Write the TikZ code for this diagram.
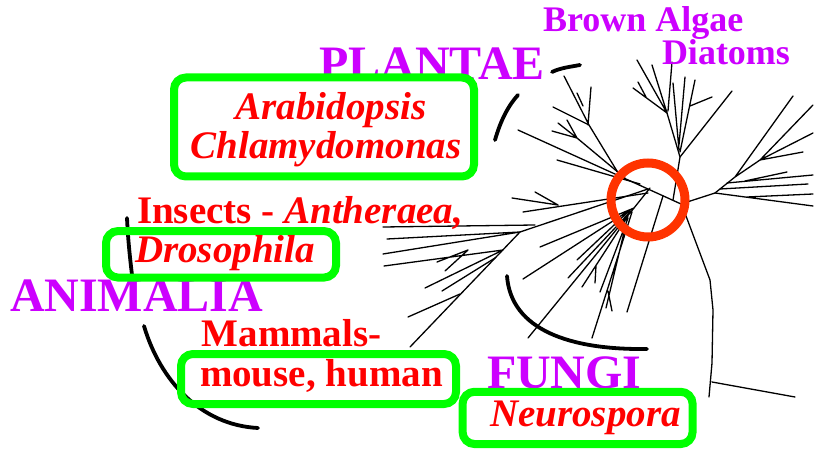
\documentclass[tikz,border=0pt]{standalone}
\usepackage{fontspec}
\setmainfont{Liberation Serif}
\definecolor{kingdompurple}{RGB}{204,0,255}
\definecolor{speciesred}{RGB}{255,0,0}
\definecolor{taggreen}{RGB}{0,255,0}
\definecolor{rootorange}{RGB}{255,51,0}

\begin{document}
\begin{tikzpicture}[x=1pt, y=-1pt,
  every node/.style={inner sep=0pt, outer sep=0pt},
  branch/.style={line width=1.3pt, line cap=round},
  hull/.style={line width=3.8pt, line cap=round},
  tag/.style={draw=taggreen, line width=8pt, rounded corners=12pt},
  kingdom/.style={text=kingdompurple, anchor=base west, font=\fontsize{48}{48}\selectfont\bfseries},
  clade/.style={text=kingdompurple, anchor=base west, font=\fontsize{36}{36}\selectfont\bfseries},
  species/.style={text=speciesred, anchor=base west, font=\fontsize{39}{39}\selectfont\bfseries}]
\useasboundingbox (0,0) rectangle (814,449);
% Plantae branches and main trunk
\draw[branch] (518,130) -- (681,204);
\draw[branch] (564,76) -- (589,125) -- (620,176) (591,87) -- (588,125) (553,107) -- (589,125)
  (577,93) -- (583,106);
\draw[branch] (558,123) -- (577,138) (567,120) -- (577,138) (552,131) -- (577,138) -- (625,178);
\draw[branch] (557,160) -- (640,184);
% Brown algae and diatoms
\draw[branch] (673,200) -- (680,157) -- (667,113);
\draw[branch] (637,60) -- (667,113) (652,65) -- (667,113) (633,88) -- (667,113) (638,82) -- (646,97)
  (672,62) -- (668,111);
\draw[branch] (673,83) -- (679,150) (685,77) -- (679,145) (695,80) -- (680,152) (712,97) -- (690,106)
  (732,91) -- (680,157);
% right cluster
\draw[branch] (681,204) -- (715,193) -- (813,206) (720,189) -- (808,184) (727,183) -- (813,175)
  (745,181) -- (787,172) (747,197) -- (813,194);
\draw[branch] (715,193) -- (735,177) -- (793,96) (735,177) -- (760,160) -- (813,105)
  (760,160) -- (813,133) (760,160) -- (803,152);
\draw[branch] (683,208) -- (710,280) -- (713,310) -- (712,363) -- (709,397) (712,382) -- (795,397);
% Animalia
\draw[branch] (410,347) -- (520,232) -- (648,189);
\draw[branch] (383,227) -- (535,225) (387,239) -- (520,232) (383,254) -- (520,232)
  (384,266) -- (503,250) (425,288) -- (503,250) (437,262) -- (468,250) (445,271) -- (468,250)
  (442,291) -- (495,258) (408,317) -- (460,294);
\draw[branch] (523,212) -- (648,193) (512,198) -- (558,205) (535,192) -- (558,205);
% Fungi
\draw[branch] (650,188) -- (634,208);
\draw[branch] (540,247) -- (634,208) (523,279) -- (630,210) (577,260) -- (630,210)
  (568,278) -- (631,211) (582,287) -- (628,216) (600,292) -- (628,218) (528,338) -- (634,208)
  (592,338) -- (632,212) (606,308) -- (626,224) (596,266) -- (595,283) (608,291) -- (612,311);
\draw[branch] (627,312) -- (663,196);
% clade arcs
\draw[hull] (495,140) .. controls (499.6,123.9) and (506.7,107.3) .. (518,95);
\draw[hull] (552,72) .. controls (560.6,67.8) and (570.6,66.8) .. (580,65);
\draw[hull] (507,276) .. controls (511,330) and (570,350) .. (647,349);
\draw[hull] (127,218) .. controls (128,240) and (130,258) .. (132,275);
\draw[hull] (144,326) .. controls (160,380) and (200,425) .. (258,428);
% root of the tree
\node[draw=rootorange, line width=9pt, circle, minimum size=74pt] (root) at (648,200) {};
% kingdoms
\node[kingdom] (plantae) at (319,80) {PLANTAE};
\node[kingdom] (animalia) at (10,311) {ANIMALIA};
\node[kingdom] (fungi) at (487,388.5) {FUNGI};
\node[clade] (brown) at (543,32) {Brown Algae};
\node[clade] (diatoms) at (662,65) {Diatoms};
% model organisms
\node[tag, minimum width=300pt, minimum height=99pt] (plantbox) at (324,127) {};
\node[tag, minimum width=230pt, minimum height=46.5pt] (insectbox) at (221,254.3) {};
\node[tag, minimum width=275pt, minimum height=50pt] (mammalbox) at (318.5,379) {};
\node[tag, minimum width=230pt, minimum height=52.3pt] (fungusbox) at (577.6,417.9) {};
\node[species, anchor=base] (arabidopsis) at (331,120) {\itshape Arabidopsis};
\node[species, anchor=base] (chlamy) at (326,158.3) {\itshape Chlamydomonas};
\node[species] (insects) at (137,224) {Insects - \textit{Antheraea,}};
\node[species] (drosophila) at (135,262.7) {\itshape Drosophila};
\node[species] (mammals) at (201.7,346.7) {Mammals-};
\node[species] (mouse) at (200,386.7) {mouse, human};
\node[species] (neurospora) at (490,426.7) {\itshape Neurospora};
\end{tikzpicture}
\end{document}
